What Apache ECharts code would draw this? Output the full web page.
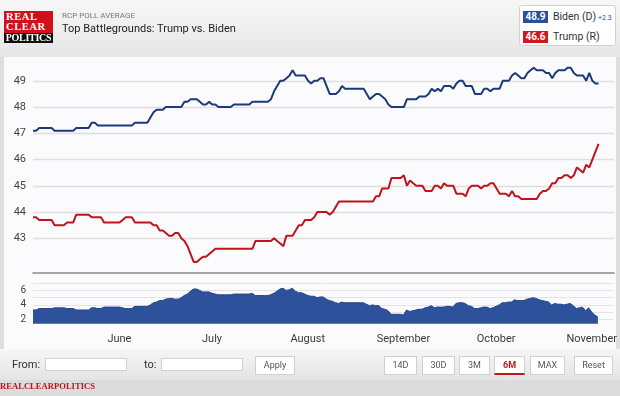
<!DOCTYPE html>
<html>
<head>
<meta charset="utf-8">
<script src="https://cdn.jsdelivr.net/npm/echarts@6/dist/echarts.min.js"></script>
<style>
  body { margin: 0; width: 620px; height: 396px; overflow: hidden; background: #dedede; font-family: Roboto, "Liberation Sans", sans-serif; position: relative; }
  .abs { position: absolute; }
  #header { left: 0; top: 0; width: 620px; height: 57px; background: linear-gradient(#f7f7f7, #e6e6e6); }
  #panel { left: 4px; top: 57px; width: 612px; height: 292px; background: #fbfbfd; }
  #toolbar { left: 0; top: 349px; width: 620px; height: 31px; background: linear-gradient(#f6f6f6, #e4e4e4); }
  #footer { left: 0; top: 380px; width: 620px; height: 16px; background: #dcdcdc; }
  #chart { left: 0; top: 0; width: 620px; height: 396px; }
  .logo-red { left: 4px; top: 11px; width: 49px; height: 22px; background: #d0111b; color: #fff; font-family: "Liberation Serif", serif; font-weight: bold; font-size: 10.5px; line-height: 10px; padding-top: 1px; padding-left: 2px; box-sizing: border-box; letter-spacing: 0.6px; }
  .logo-black { left: 4px; top: 33px; width: 49px; height: 10px; background: #111; color: #fff; font-family: "Liberation Serif", serif; font-weight: bold; font-size: 10px; line-height: 10px; text-align: center; letter-spacing: -0.3px; }
  .legend { left: 519px; top: 5px; width: 97px; height: 41px; background: #fff; border: 1px solid #d2d2d2; border-radius: 3px; box-sizing: border-box; }
  .vbox { width: 25px; height: 12px; color: #fff; font-size: 10px; font-weight: bold; text-align: center; line-height: 12px; }
  .ltext { font-size: 10.5px; color: #333; line-height: 12px; }
  .inp { top: 358px; height: 13px; background: #fff; border: 1px solid #cfcfcf; box-sizing: border-box; }
  .btn { top: 356px; height: 19px; background: #fff; border: 1px solid #cfcfcf; box-sizing: border-box; font-size: 9px; color: #555; text-align: center; line-height: 17px; }
</style>
</head>
<body>
<div id="header" class="abs"></div>
<div id="panel" class="abs"></div>
<div id="toolbar" class="abs"></div>
<div id="footer" class="abs"></div>
<div id="chart" class="abs"></div>

<div class="abs logo-red">REAL<br>CLEAR</div>
<div class="abs logo-black">POLITICS</div>
<div class="abs" style="left:62px;top:11px;font-size:8px;color:#777;">RCP POLL AVERAGE</div>
<div class="abs" style="left:62px;top:22px;font-size:11px;color:#222;">Top Battlegrounds: Trump vs. Biden</div>

<div class="abs legend"></div>
<div id="bidenVal" class="abs vbox" style="left:523px;top:11px;background:#2b4f9b;"></div>
<div class="abs ltext" style="left:553px;top:11px;">Biden (D)</div>
<div id="spreadVal" class="abs" style="left:598px;top:14px;font-size:7px;color:#2b4f9b;"></div>
<div id="trumpVal" class="abs vbox" style="left:523px;top:31px;background:#cc1a1f;"></div>
<div class="abs ltext" style="left:553px;top:31px;">Trump (R)</div>

<div class="abs" style="left:12px;top:358px;font-size:11px;color:#333;">From:</div>
<div class="abs inp" style="left:45px;width:82px;"></div>
<div class="abs" style="left:144px;top:358px;font-size:11px;color:#333;">to:</div>
<div class="abs inp" style="left:161px;width:82px;"></div>
<div class="abs btn" style="left:255px;width:40px;">Apply</div>
<div class="abs btn" style="left:384px;width:33px;">14D</div>
<div class="abs btn" style="left:422px;width:33px;">30D</div>
<div class="abs btn" style="left:459px;width:31px;">3M</div>
<div class="abs btn" style="left:494px;width:31px;color:#c4161c;font-weight:bold;border-bottom:2px solid #c4161c;">6M</div>
<div class="abs btn" style="left:530px;width:35px;">MAX</div>
<div class="abs btn" style="left:574px;width:39px;">Reset</div>
<div class="abs" style="left:0;top:381px;font-family:'Liberation Serif',serif;font-weight:bold;font-size:8.6px;color:#b3161c;">REALCLEARPOLITICS</div>

<script>
// x axis runs one category per day, from May 4 to Nov 8 2020
const firstDay = [2020, 4, 4];
const dayCount = 189;
const monthNames = ['January', 'February', 'March', 'April', 'May', 'June', 'July',
  'August', 'September', 'October', 'November', 'December'];

// RCP average, daily from May 4 to Nov 3
const biden = [
  47.1, 47.1, 47.2, 47.2, 47.2, 47.2, 47.2, 47.1, 47.1, 47.1, 47.1, 47.1, 47.1, 47.1,
  47.2, 47.2, 47.2, 47.2, 47.2, 47.4, 47.4,
  47.3, 47.3, 47.3, 47.3, 47.3, 47.3, 47.3, 47.3, 47.3, 47.3, 47.3, 47.3,
  47.4, 47.4, 47.4, 47.4, 47.4, 47.6, 47.8, 47.9, 47.9, 47.9,
  48.0, 48.0, 48.0, 48.0, 48.0, 48.0, 48.2, 48.2, 48.3, 48.3, 48.3, 48.2, 48.1, 48.1, 48.2, 48.1, 48.1,
  48.0, 48.0, 48.0, 48.0, 48.0, 48.1, 48.1, 48.1, 48.1, 48.1, 48.1,
  48.2, 48.2, 48.2, 48.2, 48.2, 48.2,
  48.3, 48.6, 48.8, 49.0, 49.0, 49.1, 49.2, 49.4, 49.2, 49.2, 49.2, 49.2,
  49.0, 48.9, 49.0, 49.0, 49.1, 49.1, 48.8, 48.5, 48.5, 48.5, 48.6, 48.8,
  48.7, 48.7, 48.7, 48.7, 48.7, 48.7, 48.7,
  48.5, 48.3, 48.4, 48.5, 48.5, 48.4, 48.3, 48.1,
  48.0, 48.0, 48.0, 48.0, 48.0, 48.3, 48.3, 48.3, 48.3, 48.4, 48.4, 48.4,
  48.5, 48.7, 48.6, 48.7, 48.6, 48.8, 48.8, 48.8, 48.7, 48.9, 49.0, 49.0,
  48.8, 48.8, 48.8, 48.5, 48.5, 48.5, 48.7, 48.7, 48.6, 48.7, 48.7, 48.7,
  49.0, 49.0, 49.0, 49.2, 49.3, 49.2, 49.1, 49.1, 49.3, 49.4, 49.5,
  49.4, 49.4, 49.4, 49.3, 49.3, 49.1,
  49.3, 49.4, 49.4, 49.4, 49.5, 49.5, 49.3, 49.2, 49.2, 49.2,
  49.0, 49.3, 49.0, 48.9, 48.9
];
const trump = [
  43.8, 43.8, 43.7, 43.7, 43.7, 43.7, 43.7, 43.5, 43.5, 43.5, 43.5, 43.6, 43.6, 43.6,
  43.9, 43.9, 43.9, 43.9, 43.9, 43.8, 43.8, 43.8, 43.8,
  43.6, 43.6, 43.6, 43.6, 43.6, 43.6, 43.7, 43.8, 43.8, 43.8,
  43.6, 43.6, 43.6, 43.6, 43.6, 43.6, 43.5, 43.5, 43.3, 43.3, 43.2, 43.1, 43.1, 43.2, 43.2,
  43.0, 42.9, 42.7, 42.4, 42.1, 42.1, 42.2, 42.3, 42.3, 42.4, 42.5,
  42.6, 42.6, 42.6, 42.6, 42.6, 42.6, 42.6, 42.6, 42.6, 42.6, 42.6, 42.6, 42.6,
  42.9, 42.9, 42.9, 42.9, 42.9, 42.9, 43.0, 42.9, 42.8, 42.7,
  43.1, 43.1, 43.1, 43.3, 43.5, 43.5, 43.7, 43.7, 43.7, 43.8,
  44.0, 44.0, 44.0, 44.0, 43.9, 44.0, 44.2,
  44.4, 44.4, 44.4, 44.4, 44.4, 44.4, 44.4, 44.4, 44.4, 44.4, 44.4, 44.4,
  44.6, 44.6, 44.9, 44.9, 44.9, 45.3, 45.3, 45.3, 45.3, 45.4,
  45.0, 45.2, 45.1, 45.0, 45.0, 45.0, 44.8, 44.8, 44.8, 45.0, 45.0, 44.9, 45.1,
  45.0, 45.0, 45.0, 44.7, 44.7, 44.7, 44.6,
  44.9, 45.0, 45.0, 45.0, 44.9, 45.0, 45.0, 45.1, 45.1, 44.9,
  44.7, 44.7, 44.7, 44.6, 44.8, 44.6, 44.6,
  44.5, 44.5, 44.5, 44.5, 44.5, 44.5,
  44.7, 44.8, 44.8, 44.9, 45.1, 45.1, 45.3, 45.3,
  45.4, 45.4, 45.3, 45.4, 45.7, 45.6, 45.5, 45.8, 45.7, 46.0, 46.3, 46.6
];

const days = [];
for (let i = 0; i < dayCount; i++) {
  const d = new Date(Date.UTC(firstDay[0], firstDay[1], firstDay[2] + i));
  days.push(d.toISOString().slice(0, 10));
}
// spread panel = Biden lead
const spread = biden.map((b, i) => Math.round((b - trump[i]) * 10) / 10);

const last = biden.length - 1;
document.getElementById('bidenVal').innerText = biden[last].toFixed(1);
document.getElementById('trumpVal').innerText = trump[last].toFixed(1);
document.getElementById('spreadVal').innerText = '+' + spread[last].toFixed(1);

const isMonthStart = (idx, val) => val.slice(8) === '01';

const chart = echarts.init(document.getElementById('chart'), null, { renderer: 'canvas' });
chart.setOption({
  animation: false,
  backgroundColor: 'transparent',
  grid: [
    { left: 33, right: 6, top: 54.55, bottom: 131.45 },
    { left: 33, right: 6, top: 276, bottom: 69.4 }
  ],
  xAxis: [
    {
      type: 'category', gridIndex: 0, data: days, boundaryGap: false, offset: 8.45,
      axisLine: { lineStyle: { color: '#8c8c8c', width: 1.5 } },
      axisTick: { show: false }, axisLabel: { show: false }
    },
    {
      type: 'category', gridIndex: 1, data: days, boundaryGap: false,
      axisLine: { show: false }, axisTick: { show: false },
      axisLabel: {
        interval: isMonthStart, margin: 7,
        color: '#3a3a3a', fontSize: 11, fontFamily: 'Roboto',
        formatter: v => monthNames[+v.slice(5, 7) - 1]
      }
    }
  ],
  yAxis: [
    {
      type: 'value', gridIndex: 0, min: 42, max: 50, interval: 1,
      axisLine: { show: false }, axisTick: { show: false },
      axisLabel: {
        margin: 7, color: '#444', fontSize: 11, fontFamily: 'Roboto',
        formatter: v => (v === 42 || v === 50) ? '' : v
      },
      splitLine: { lineStyle: { width: 1.3, color: ['rgba(0,0,0,0)', '#dedede', '#dedede', '#dedede', '#dedede', '#dedede', '#dedede', '#dedede', 'rgba(0,0,0,0)'] } }
    },
    {
      type: 'value', gridIndex: 1, min: 1, max: 8, interval: 1,
      axisLine: { show: false }, axisTick: { show: false },
      axisLabel: {
        margin: 7, color: '#444', fontSize: 10, fontFamily: 'Roboto',
        formatter: v => (v % 2 === 0 && v < 8) ? v : ''
      },
      splitLine: { lineStyle: { width: 1, color: ['rgba(0,0,0,0)', '#e4e4e4', '#e4e4e4', '#e4e4e4', '#e4e4e4', '#e4e4e4', '#e4e4e4', 'rgba(0,0,0,0)'] } }
    }
  ],
  series: [
    {
      name: 'Biden (D)', type: 'line', xAxisIndex: 0, yAxisIndex: 0, data: biden,
      showSymbol: false, lineStyle: { color: '#1d3a78', width: 2 }
    },
    {
      name: 'Trump (R)', type: 'line', xAxisIndex: 0, yAxisIndex: 0, data: trump,
      showSymbol: false, lineStyle: { color: '#c0131b', width: 2 }
    },
    {
      name: 'Spread', type: 'line', xAxisIndex: 1, yAxisIndex: 1, data: spread,
      showSymbol: false, lineStyle: { color: '#24458c', width: 1 },
      areaStyle: { color: '#2e519c', opacity: 1, origin: 1.4 }
    }
  ]
});
</script>
</body>
</html>
